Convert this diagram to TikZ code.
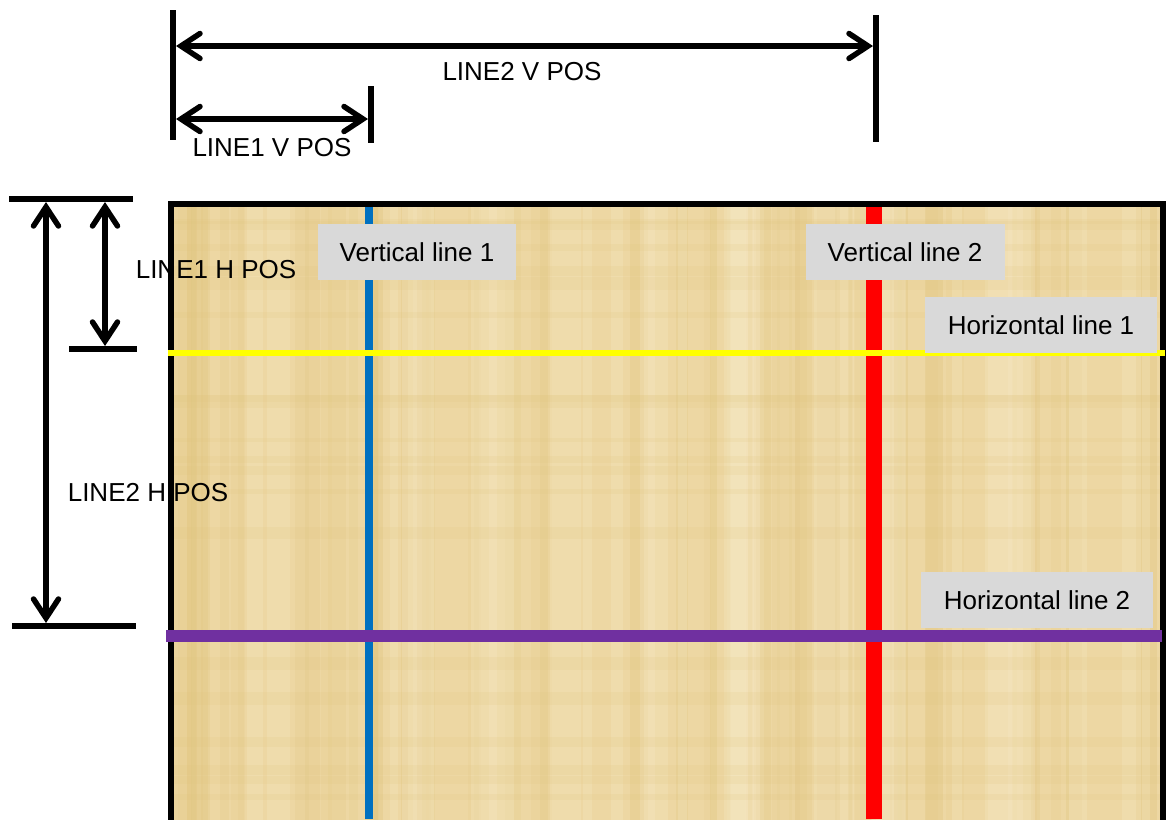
\documentclass[tikz,border=0pt]{standalone}
\usepackage{fontspec}
\setmainfont{Liberation Sans}
\usepackage{xcolor}
\usepackage{tikz}
\usetikzlibrary{arrows.meta,positioning,calc}
\definecolor{papyrusTan}{HTML}{EDD7A3}
\definecolor{papyrusDark}{HTML}{E0C47C}
\definecolor{papyrusLight}{HTML}{F6E8C4}
\definecolor{tagGrey}{HTML}{D9D9D9}
\definecolor{lineBlue}{HTML}{0070C0}
\definecolor{lineRed}{HTML}{FF0000}
\definecolor{lineYellow}{HTML}{FFFF00}
\definecolor{linePurple}{HTML}{7030A0}

\begin{document}
\begin{tikzpicture}[
  x=0.02cm,y=-0.02cm,
  font=\fontsize{14.8}{17}\selectfont,
  tag/.style={fill=tagGrey,minimum width=3.98cm,minimum height=1.12cm,inner sep=0pt},
  dimtext/.style={inner sep=0pt},
  tick/.style={line width=0.11cm},
  dimarr/.style={line width=0.11cm,{Straight Barb[length=3.8mm,width=5mm,line cap=round]}-{Straight Barb[length=3.8mm,width=5mm,line cap=round]}}
]
\useasboundingbox (0,0) rectangle (1168,819);

% papyrus sheet
\begin{scope}
\clip (0,0) rectangle (1168,819);
\fill[papyrusTan] (170,204) rectangle (1164,830);
\pgfmathsetseed{11}
\foreach \i in {1,...,60}{
  \pgfmathsetmacro\xx{172+rnd*980}
  \pgfmathsetmacro\ww{3+rnd*18}
  \pgfmathsetmacro\op{0.08+rnd*0.25}
  \fill[papyrusDark,opacity=\op] (\xx,206) rectangle ++(\ww,620);
}
\foreach \i in {1,...,30}{
  \pgfmathsetmacro\xx{172+rnd*980}
  \pgfmathsetmacro\ww{6+rnd*30}
  \fill[papyrusLight,opacity=0.3] (\xx,206) rectangle ++(\ww,620);
}
\foreach \i in {1,...,20}{
  \pgfmathsetmacro\yy{210+rnd*600}
  \pgfmathsetmacro\hh{3+rnd*12}
  \fill[papyrusDark,opacity=0.15] (172,\yy) rectangle ++(990,\hh);
}
\draw[line width=0.11cm] (171,830) -- (171,204) -- (1163,204) -- (1163,830);
\end{scope}

% coloured lines
\coordinate (v1top) at (369,207);
\coordinate (v1bot) at (369,819);
\coordinate (v2top) at (874,207);
\coordinate (v2bot) at (874,819);
\coordinate (h1lft) at (168,353);
\coordinate (h1rgt) at (1165,353);
\coordinate (h2lft) at (166,636);
\coordinate (h2rgt) at (1162,636);
\draw[lineBlue,line width=0.17cm] (v1top) -- (v1bot);
\draw[lineRed,line width=0.33cm] (v2top) -- (v2bot);
\draw[lineYellow,line width=0.13cm] (h1lft) -- (h1rgt);
\draw[linePurple,line width=0.25cm] (h2lft) -- (h2rgt);

% tags
\node[tag] (tagv1) at (417,252) {Vertical line 1};
\node[tag] (tagv2) at (905,252) {Vertical line 2};
\node[tag,minimum width=4.64cm] (tagh1) at (1041,325) {Horizontal line 1};
\node[tag,minimum width=4.64cm] (tagh2) at (1037,600) {Horizontal line 2};

% vertical position dimensions
\coordinate (vl0a) at (173,10);
\coordinate (vl0b) at (173,140);
\coordinate (vl1a) at (371,86);
\coordinate (vl1b) at (371,143);
\coordinate (vl2a) at (876,15);
\coordinate (vl2b) at (876,142);
\draw[tick] (vl0a) -- (vl0b);
\draw[tick] (vl1a) -- (vl1b);
\draw[tick] (vl2a) -- (vl2b);
\coordinate (a2l) at (176,46);
\coordinate (a2r) at (873,46);
\coordinate (a1l) at (176,119);
\coordinate (a1r) at (368,119);
\draw[dimarr] (a2l) -- (a2r);
\draw[dimarr] (a1l) -- (a1r);
\node[dimtext] (lbl2v) at (522,72) {LINE2 V POS};
\node[dimtext] (lbl1v) at (272,148) {LINE1 V POS};

% horizontal position dimensions
\coordinate (hl0a) at (9,199);
\coordinate (hl0b) at (133,199);
\coordinate (hl1a) at (69,349);
\coordinate (hl1b) at (137,349);
\coordinate (hl2a) at (12,626);
\coordinate (hl2b) at (136,626);
\draw[tick] (hl0a) -- (hl0b);
\draw[tick] (hl1a) -- (hl1b);
\draw[tick] (hl2a) -- (hl2b);
\coordinate (b1t) at (105,202);
\coordinate (b1b) at (105,346);
\coordinate (b2t) at (46,202);
\coordinate (b2b) at (46,623);
\draw[dimarr] (b1t) -- (b1b);
\draw[dimarr] (b2t) -- (b2b);
\node[dimtext] (lbl1h) at (216,270) {LINE1 H POS};
\node[dimtext] (lbl2h) at (148,493) {LINE2 H POS};
\end{tikzpicture}
\end{document}
